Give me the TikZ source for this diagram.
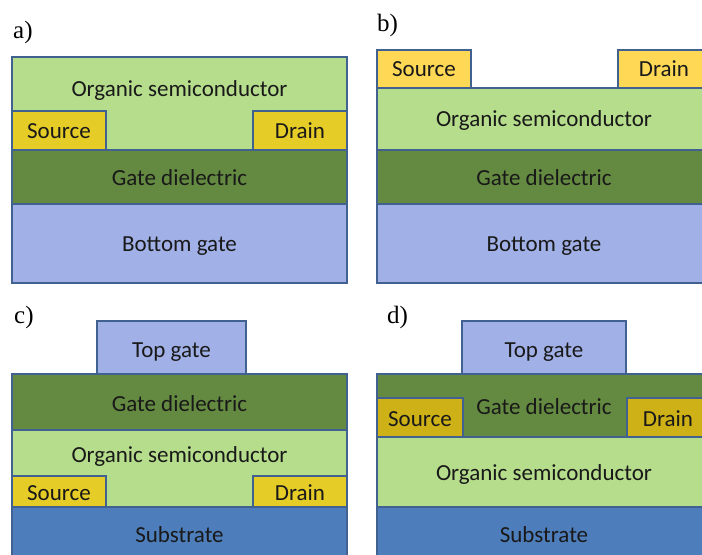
\documentclass[tikz,border=0pt]{standalone}
\usepackage{fontspec}
\setmainfont{Liberation Serif}
\newfontfamily\calfont{Carlito}
\definecolor{edge}{RGB}{65,98,145}
\definecolor{osgreen}{RGB}{181,221,140}
\definecolor{gdgreen}{RGB}{99,138,64}
\definecolor{gateblue}{RGB}{161,177,231}
\definecolor{sdyellow}{RGB}{229,204,38}
\definecolor{sdlight}{RGB}{255,216,85}
\definecolor{sddark}{RGB}{206,177,22}
\definecolor{subblue}{RGB}{77,126,187}
\tikzset{
  layer/.style={draw=edge, line width=1.8bp, line join=miter},
  txt/.style={anchor=base, inner sep=0pt, font=\calfont\fontsize{23bp}{27bp}\selectfont, text=black!90},
  panellbl/.style={anchor=base west, inner sep=0pt, font=\fontsize{25bp}{29bp}\selectfont}
}
\begin{document}
\begin{tikzpicture}[x=1bp,y=-1bp]
\useasboundingbox (0,0) rectangle (702,555);
\clip (0,0) rectangle (702,555);
% ---------- a) ----------
\node[panellbl] (la) at (13,39) {a)};
\path[layer, fill=osgreen] (12,57) rectangle (347,150);
\path[layer, fill=sdyellow] (12,111) rectangle (106,150);
\path[layer, fill=sdyellow] (253,111) rectangle (347,150);
\path[layer, fill=gdgreen] (12,150) rectangle (347,204);
\path[layer, fill=gateblue] (12,204) rectangle (347,283);
\node[txt] (a-os) at (179.5,97) {Organic semiconductor};
\node[txt] (a-s) at (59,139) {Source};
\node[txt] (a-d) at (300,139) {Drain};
\node[txt] (a-gd) at (179.5,186) {Gate dielectric};
\node[txt] (a-bg) at (179.5,252) {Bottom gate};
% ---------- b) ----------
\node[panellbl] (lb) at (377,32) {b)};
\path[layer, fill=sdlight] (377,50) rectangle (471,88);
\path[layer, fill=sdlight] (618,50) rectangle (712,88);
\path[layer, fill=osgreen] (377,88) rectangle (712,150);
\path[layer, fill=gdgreen] (377,150) rectangle (712,204);
\path[layer, fill=gateblue] (377,204) rectangle (712,283);
\node[txt] (b-s) at (424,77) {Source};
\node[txt] (b-d) at (664,77) {Drain};
\node[txt] (b-os) at (544,127) {Organic semiconductor};
\node[txt] (b-gd) at (544,186) {Gate dielectric};
\node[txt] (b-bg) at (544,252) {Bottom gate};
% ---------- c) ----------
\node[panellbl] (lc) at (14,323) {c)};
\path[layer, fill=gateblue] (97,321) rectangle (246,374);
\path[layer, fill=gdgreen] (12,374) rectangle (347,430);
\path[layer, fill=osgreen] (12,430) rectangle (347,507);
\path[layer, fill=sdyellow] (12,476) rectangle (106,507);
\path[layer, fill=sdyellow] (253,476) rectangle (347,507);
\path[layer, fill=subblue] (12,507) rectangle (347,565);
\node[txt] (c-tg) at (171.5,357) {Top gate};
\node[txt] (c-gd) at (179.5,411) {Gate dielectric};
\node[txt] (c-os) at (179.5,462) {Organic semiconductor};
\node[txt] (c-s) at (59,500) {Source};
\node[txt] (c-d) at (300,500) {Drain};
\node[txt] (c-sub) at (179.5,542) {Substrate};
% ---------- d) ----------
\node[panellbl] (ld) at (387,323) {d)};
\path[layer, fill=gateblue] (462,321) rectangle (626,374);
\path[layer, fill=gdgreen] (377,374) rectangle (712,437);
\path[layer, fill=sddark] (377,398) rectangle (463,437);
\path[layer, fill=sddark] (627,398) rectangle (712,437);
\path[layer, fill=osgreen] (377,437) rectangle (712,507);
\path[layer, fill=subblue] (377,507) rectangle (712,565);
\node[txt] (d-tg) at (544,357) {Top gate};
\node[txt] (d-gd) at (544,414) {Gate dielectric};
\node[txt] (d-s) at (420,426) {Source};
\node[txt] (d-d) at (668,426) {Drain};
\node[txt] (d-os) at (544,480) {Organic semiconductor};
\node[txt] (d-sub) at (544,542) {Substrate};
\end{tikzpicture}
\end{document}
